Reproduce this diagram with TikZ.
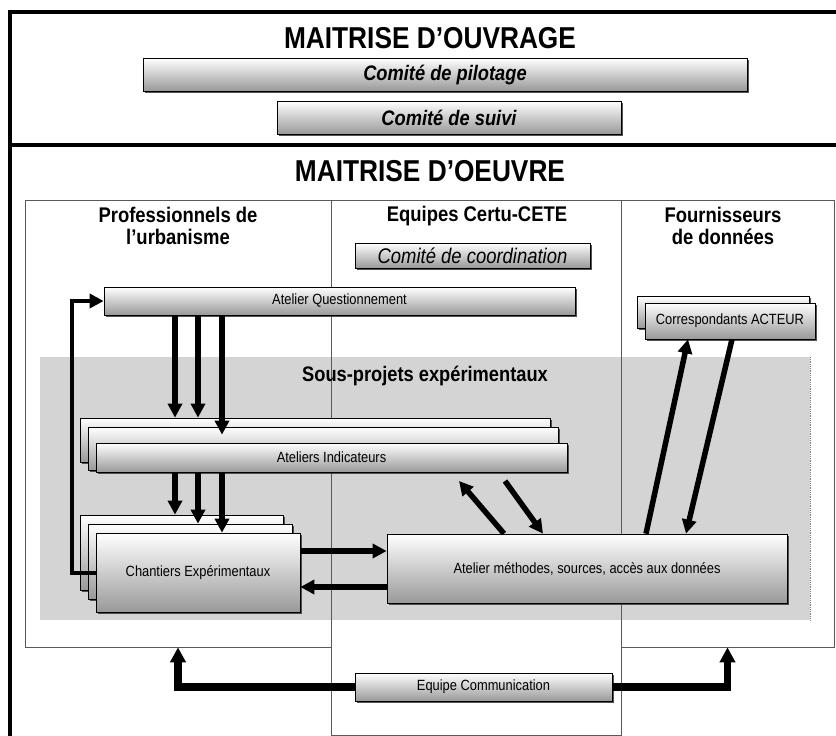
\documentclass[tikz,border=0pt]{standalone}
\usepackage{fontspec}
\setmainfont[FakeStretch=0.87]{Liberation Sans}
\usetikzlibrary{arrows.meta,shadows}

\begin{document}
\begin{tikzpicture}[x=1pt,y=-1pt,
			boite/.style = {draw=black, line width=0.7pt, inner sep=0pt,
				top color=white, bottom color=black!40,
				drop shadow={shadow xshift=1.6pt, shadow yshift=-1.6pt, fill=black!75, opacity=0.9},
				font=\fontsize{14.8}{16}\selectfont},
			comite/.style = {boite, font=\fontsize{21}{24}\selectfont\bfseries\itshape},
			colonne/.style = {draw=black!65, line width=0.6pt, fill=white, inner sep=0pt},
			titre/.style = {align=center, font=\fontsize{21.2}{21.5}\selectfont\bfseries},
			grandtitre/.style = {font=\fontsize{30.2}{32}\selectfont\bfseries},
			fleche/.style = {line width=5.5pt, -{Triangle[length=14pt,width=14pt]}},
			grossefleche/.style = {line width=7.5pt, -{Triangle[length=15pt,width=15pt]}}]
			\useasboundingbox (0,0) rectangle (836,736);
			% maitrise d'ouvrage
			\draw[line width=3.5pt] (836,12) -- (10,12) -- (10,736);
			\draw[line width=3.5pt] (10,145) -- (836,145);
			\node[grandtitre] (mo) at (430,38) {MAITRISE D’OUVRAGE};
			\node[comite, minimum width=604, minimum height=33] (pilotage) at (445,74.5) {Comité de pilotage};
			\node[comite, minimum width=344, minimum height=33] (suivi) at (449,117.5) {Comité de suivi};
			% maitrise d'oeuvre
			\node[grandtitre] (moe) at (430,171) {MAITRISE D’OEUVRE};
			\node[colonne, minimum width=306, minimum height=447] (colG) at (178,423.5) {};
			\node[colonne, minimum width=213, minimum height=447] (colD) at (727.5,423.5) {};
			\node[colonne, minimum width=290, minimum height=535] (colM) at (476,467.5) {};
			\node[titre] (urba) at (178,226) {Professionnels de\\l’urbanisme};
			\node[titre] (certu) at (477,216) {Equipes Certu-CETE};
			\node[titre] (fourn) at (723,226) {Fournisseurs\\de données};
			\node[boite, minimum width=235, minimum height=25, font=\fontsize{21.2}{24}\selectfont\itshape] (coord) at (472.5,255.5) {Comité de coordination};
			% sous-projets
			\fill[black!17] (40,357) rectangle (810,620);
			\draw[black!50, densely dotted, line width=0.8pt] (810,357) -- (810,620);
			\draw[black!65, line width=0.6pt] (331,357) -- (331,620) (621,357) -- (621,620);
			\node[font=\fontsize{21}{24}\selectfont\bfseries] (sp) at (425,376) {Sous-projets expérimentaux};
			\node[boite, minimum width=471, minimum height=28] (aq) at (339.5,301) {Atelier Questionnement};
			\node[boite, minimum width=470, minimum height=44] (indC) at (315,440) {};
			\node[boite, minimum width=470, minimum height=43] (indB) at (323,448.5) {};
			\node[boite, minimum width=471, minimum height=29] (indA) at (331.5,457.5) {Ateliers Indicateurs};
			\node[boite, minimum width=203, minimum height=75] (chC) at (181.5,552.5) {};
			\node[boite, minimum width=204, minimum height=75] (chB) at (190,561.5) {};
			\node[boite, minimum width=204, minimum height=79] (chA) at (198,572.5) {Chantiers Expérimentaux};
			\node[boite, minimum width=400, minimum height=69] (meth) at (587,568.5) {Atelier méthodes, sources, accès aux données};
			\node[boite, minimum width=172, minimum height=32] (corC) at (723,312) {};
			\node[boite, minimum width=170, minimum height=36] (corA) at (730,321) {Correspondants ACTEUR};
			\node[boite, minimum width=257, minimum height=28] (comm) at (483.5,687) {Equipe Communication};
			% fleches
			\foreach \x/\cible/\court in {175/indC/0,198/indC/0,222/indA/8}
				\draw[fleche, shorten >=\court pt] (\x,0 |- aq.south) -- (\x,0 |- \cible.north);
			\foreach \x/\cible in {175/chC,198/chB,222/chA}
				\draw[fleche] (\x,0 |- indA.south) -- (\x,0 |- \cible.north);
			\draw[line width=4pt, -{Triangle[length=14pt,width=14pt]}] (chA.west) -- ++(-24,0) |- (aq.west);
			\draw[fleche] (chA.east |- 0,551) -- (meth.west |- 0,551);
			\draw[fleche] (meth.west |- 0,587) -- (chA.east |- 0,587);
			\draw[fleche] (meth.north -| 504,0) -- (459,481);
			\draw[fleche] (505,481) -- (meth.north -| 543,0);
			\draw[fleche] (meth.north -| 646,0) -- (corA.south -| 688,0);
			\draw[fleche] (corA.south -| 732,0) -- (meth.north -| 686,0);
			\draw[grossefleche] (comm.west) -| (colG.south);
			\draw[grossefleche] (comm.east) -| (colD.south);
		\end{tikzpicture}
\end{document}
